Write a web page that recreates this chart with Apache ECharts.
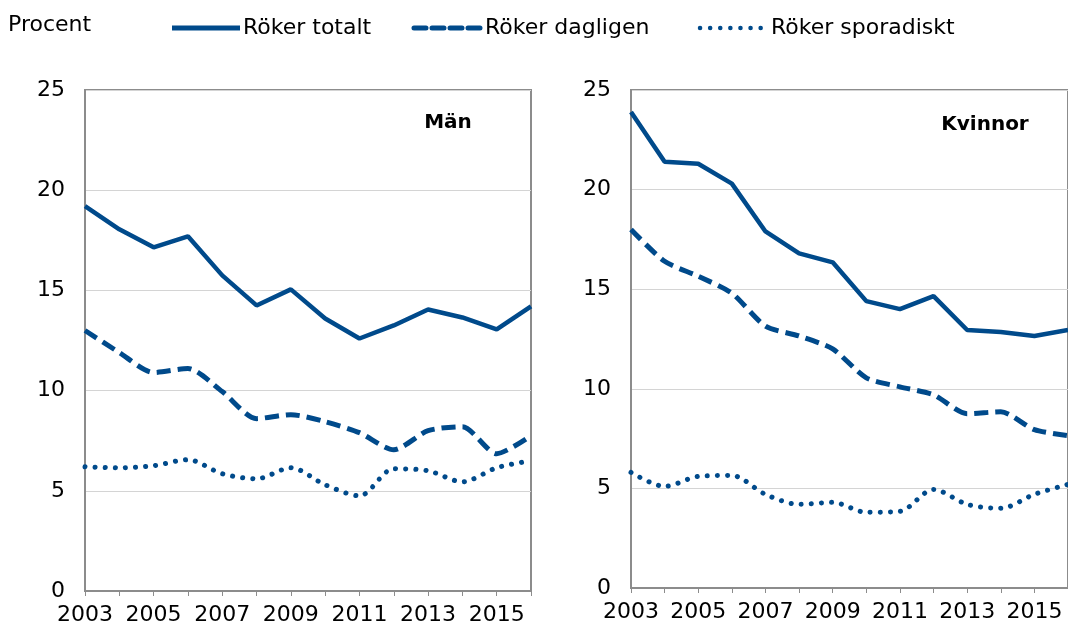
<!DOCTYPE html>
<html>
<head>
<meta charset="utf-8">
<script src="https://cdn.jsdelivr.net/npm/echarts@6/dist/echarts.min.js"></script>
<style>
  html, body { margin: 0; padding: 0; background: #fff; }
  #chart { width: 1068px; height: 629px; }
</style>
</head>
<body>
<div id="chart"></div>
<script>
// years on the x axis
const years = ['2003', '2004', '2005', '2006', '2007', '2008', '2009', '2010', '2011', '2012', '2013', '2014', '2015', '2016']

// Män
const manTotalt = [19.2, 18.05, 17.15, 17.7, 15.75, 14.25, 15.05, 13.6, 12.6, 13.25, 14.05, 13.65, 13.05, 14.2]
const manDagligen = [13.0, 11.9, 10.9, 11.1, 9.95, 8.6, 8.8, 8.45, 7.9, 7.05, 8.0, 8.2, 6.85, 7.75]
const manSporadiskt = [6.2, 6.15, 6.25, 6.55, 5.85, 5.6, 6.15, 5.3, 4.75, 6.1, 6.0, 5.45, 6.15, 6.5]

// Kvinnor
const kvinnorTotalt = [23.9, 21.4, 21.3, 20.3, 17.9, 16.8, 16.35, 14.4, 14.0, 14.65, 12.95, 12.85, 12.65, 12.95]
const kvinnorDagligen = [18.0, 16.4, 15.65, 14.8, 13.15, 12.65, 12.0, 10.55, 10.1, 9.7, 8.75, 8.85, 7.95, 7.65]
const kvinnorSporadiskt = [5.8, 5.1, 5.6, 5.65, 4.7, 4.2, 4.3, 3.8, 3.85, 4.95, 4.2, 4.0, 4.7, 5.2]

const seriesNames = ['Röker totalt', 'Röker dagligen', 'Röker sporadiskt']
const yTicks = { min: 0, max: 25, interval: 5 }

const blue = '#004a8b'
const font = 'DejaVu Sans'

// line looks shared by the plot and the hand drawn legend
const solidStyle = { width: 4.5 }
const dashStyle = { width: 5, type: [14, 7] }
const dotStyle = { width: 5, type: [0.1, 10], cap: 'round' }

const chart = echarts.init(document.getElementById('chart'))

function xAxisFor(gridIndex) {
  return {
    type: 'category',
    gridIndex: gridIndex,
    data: years,
    boundaryGap: false,
    axisLine: { lineStyle: { color: '#8c8c8c', width: 2 } },
    axisTick: { show: true, interval: 0, length: 5, lineStyle: { color: '#8c8c8c', width: 1 } },
    axisLabel: { interval: 1, color: '#000', fontFamily: font, fontSize: 22, margin: 13 },
    splitLine: { show: false }
  }
}

function yAxisFor(gridIndex) {
  return {
    type: 'value',
    gridIndex: gridIndex,
    min: yTicks.min,
    max: yTicks.max,
    interval: yTicks.interval,
    axisLine: { show: true, lineStyle: { color: '#8c8c8c', width: 2 } },
    axisTick: { show: false },
    axisLabel: { color: '#000', fontFamily: font, fontSize: 22, margin: 20 },
    splitLine: { lineStyle: { color: '#d4d4d4', width: 1 } }
  }
}

function lines(gridIndex, totalt, dagligen, sporadiskt) {
  return [
    {
      name: seriesNames[0], type: 'line', xAxisIndex: gridIndex, yAxisIndex: gridIndex,
      data: totalt, symbol: 'none',
      lineStyle: Object.assign({ color: blue }, solidStyle)
    },
    {
      name: seriesNames[1], type: 'line', xAxisIndex: gridIndex, yAxisIndex: gridIndex,
      data: dagligen, symbol: 'none', smooth: 0.25,
      lineStyle: Object.assign({ color: blue }, dashStyle)
    },
    {
      name: seriesNames[2], type: 'line', xAxisIndex: gridIndex, yAxisIndex: gridIndex,
      data: sporadiskt, symbol: 'none', smooth: 0.3,
      lineStyle: Object.assign({ color: blue }, dotStyle)
    }
  ]
}

// legend drawn by hand so the swatches keep the dash patterns
const legendY = 28
const legendItems = [
  { x: 172, text: seriesNames[0], dash: null, cap: 'butt', width: 5 },
  { x: 414, text: seriesNames[1], dash: [12, 6], cap: 'round', width: 5 },
  { x: 700, text: seriesNames[2], dash: [0.1, 10], cap: 'round', width: 4.5 }
]
const legendGraphics = []
legendItems.forEach(function (it) {
  legendGraphics.push({
    type: 'line',
    shape: { x1: it.x, y1: legendY, x2: it.x + 68, y2: legendY },
    style: { stroke: blue, lineWidth: it.width, lineDash: it.dash, lineCap: it.cap }
  })
  legendGraphics.push({
    type: 'text', x: it.x + 71, y: legendY,
    style: { text: it.text, fill: '#000', font: '22px "DejaVu Sans"', verticalAlign: 'middle' }
  })
})

chart.setOption({
  animation: false,
  graphic: [
    { type: 'text', x: 8, y: 25, style: { text: 'Procent', fill: '#000', font: '22px "DejaVu Sans"', verticalAlign: 'middle' } },
    { type: 'text', x: 448, y: 123, style: { text: 'Män', fill: '#000', font: 'bold 20px "DejaVu Sans"', align: 'center', verticalAlign: 'middle' } },
    { type: 'text', x: 985, y: 125, style: { text: 'Kvinnor', fill: '#000', font: 'bold 20px "DejaVu Sans"', align: 'center', verticalAlign: 'middle' } }
  ].concat(legendGraphics),
  grid: [
    { left: 85, top: 90, width: 446, height: 501, show: true, borderColor: '#8c8c8c', borderWidth: 2, backgroundColor: 'transparent' },
    { left: 631, top: 90, width: 446, height: 498, show: true, borderColor: '#8c8c8c', borderWidth: 2, backgroundColor: 'transparent' }
  ],
  xAxis: [xAxisFor(0), xAxisFor(1)],
  yAxis: [yAxisFor(0), yAxisFor(1)],
  series: [
    ...lines(0, manTotalt, manDagligen, manSporadiskt),
    ...lines(1, kvinnorTotalt, kvinnorDagligen, kvinnorSporadiskt)
  ]
})
</script>
</body>
</html>
